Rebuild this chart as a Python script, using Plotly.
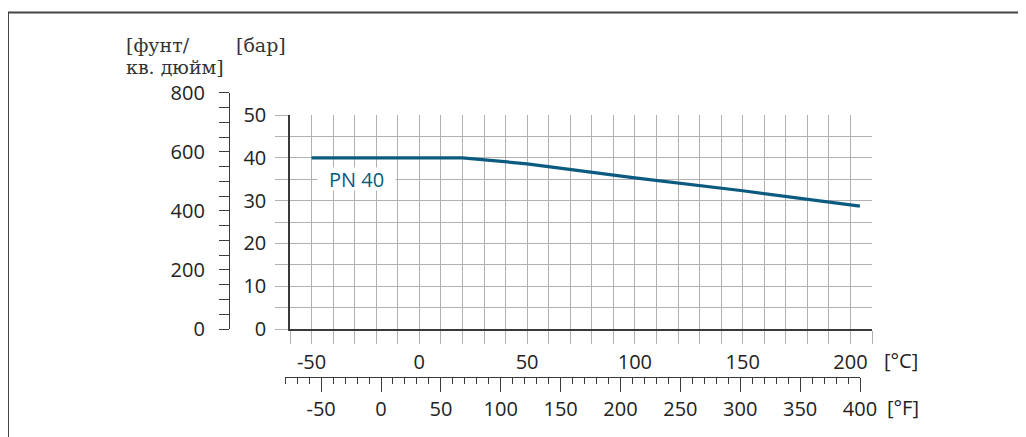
import plotly.graph_objects as go

# ---- data ----
temp_c = [-50, 20, 50, 100, 150, 200, 204.4]
pressure_bar = [40, 40, 38.6, 35.3, 32.3, 29.0, 28.7]
series_label = "PN 40"

c_range = [-60, 210]
c_ticks = list(range(-60, 211, 10))
c_labels = [str(v) if v % 50 == 0 else "" for v in c_ticks]

bar_range = [0, 50]
bar_ticks = list(range(0, 51, 5))
bar_labels = [str(v) if v % 10 == 0 else "" for v in bar_ticks]

f_range = [-80, 400]
f_major = list(range(-50, 401, 50))
f_minor = list(range(-80, 401, 10))

psi_range = [0, 800]
psi_major = list(range(0, 801, 200))
psi_minor = list(range(0, 801, 50))

# page body has an 8px margin: figure occupies window pixels 8..1026 x 8..437
OFF = 8
W, H = 1026 - OFF, 437 - OFF
def px(x):
    return (x - OFF) / W
def py(y):
    return 1 - (y - OFF) / H

LINE = "#0b5a80"
GRID = "#b0b0b0"
DARK = "#3a3a3a"
TXT = "#222222"
FONT = "Open Sans"
tick_font = dict(family=FONT, size=20, color=TXT)
serif_font = dict(family="DejaVu Serif", size=19, color="#333333")

fig = go.Figure()
fig.add_trace(go.Scatter(x=temp_c, y=pressure_bar, mode="lines",
                         line=dict(color=LINE, width=3.2), showlegend=False,
                         hoverinfo="skip"))
# helper traces that only bind the secondary axes to their own subplots
fig.add_trace(go.Scatter(x=f_range, y=[0, 0], xaxis="x2", yaxis="y3", mode="lines",
                         line=dict(width=0), opacity=0, showlegend=False, hoverinfo="skip"))
fig.add_trace(go.Scatter(x=[0, 0], y=psi_range, xaxis="x3", yaxis="y2", mode="lines",
                         line=dict(width=0), opacity=0, showlegend=False, hoverinfo="skip"))

fig.update_layout(
    width=W, height=H, autosize=False,
    margin=dict(l=0, r=0, t=0, b=0, pad=0, autoexpand=False),
    showlegend=False,
    paper_bgcolor="white", plot_bgcolor="rgba(0,0,0,0)",
    xaxis=dict(domain=[px(290), px(872)], range=c_range, tickmode="array",
               tickvals=c_ticks, ticktext=c_labels, ticks="outside", ticklen=13,
               tickcolor=GRID, tickwidth=1, showgrid=True, gridcolor=GRID, gridwidth=1,
               showline=True, linecolor=DARK, linewidth=1.5, zeroline=False,
               tickfont=tick_font, ticklabelstandoff=1, anchor="y", automargin=False),
    yaxis=dict(domain=[py(329), py(115)], range=bar_range, tickmode="array",
               tickvals=bar_ticks, ticktext=bar_labels, ticks="outside", ticklen=13,
               tickcolor=GRID, tickwidth=1, showgrid=True, gridcolor=GRID, gridwidth=1,
               showline=True, linecolor=DARK, linewidth=1.5, zeroline=False,
               tickfont=tick_font, ticklabelstandoff=5, anchor="x", automargin=False),
    xaxis2=dict(domain=[px(285.2), px(860.0)], range=f_range, tickmode="array",
                tickvals=f_major, ticktext=[str(v) for v in f_major],
                ticks="outside", ticklen=14, tickcolor=DARK, tickwidth=1,
                minor=dict(tickmode="array", tickvals=f_minor, ticks="outside",
                           ticklen=6, tickcolor=DARK, tickwidth=1),
                showgrid=False, showline=True, linecolor=DARK, linewidth=1.2,
                zeroline=False, tickfont=tick_font, anchor="free",
                position=py(376.5), side="bottom", ticklabelstandoff=0,
                automargin=False),
    yaxis3=dict(domain=[py(329), py(115)], range=[0, 1], visible=False,
                showgrid=False, anchor="x2", automargin=False),
    xaxis3=dict(domain=[0, 0.01], range=[0, 1], visible=False, showgrid=False,
                anchor="y2", automargin=False),
    yaxis2=dict(domain=[py(329), py(92.9)], range=psi_range, tickmode="array",
                tickvals=psi_major, ticktext=[str(v) for v in psi_major],
                ticks="outside", ticklen=10, tickcolor=DARK, tickwidth=1,
                minor=dict(tickmode="array", tickvals=psi_minor, ticks="outside",
                           ticklen=10, tickcolor=DARK, tickwidth=1),
                showgrid=False, showline=True, linecolor=DARK, linewidth=1.2,
                zeroline=False, tickfont=tick_font, anchor="free",
                position=px(229), side="left", ticklabelstandoff=10,
                automargin=False),
    shapes=[
        dict(type="line", xref="paper", yref="paper", x0=px(8), x1=px(8),
             y0=0, y1=py(12.5), line=dict(color="#444444", width=2)),
        dict(type="line", xref="paper", yref="paper", x0=px(7), x1=1,
             y0=py(12.5), y1=py(12.5), line=dict(color="#444444", width=2)),
    ],
    annotations=[
        dict(text=series_label, x=-29, y=35, xref="x", yref="y", showarrow=False,
             font=dict(family=FONT, size=20, color=LINE), bgcolor="white",
             width=77, height=22, borderpad=0),
        dict(text="[°C]", x=px(882), y=py(360), xref="paper", yref="paper",
             xanchor="left", yanchor="middle", showarrow=False, font=tick_font),
        dict(text="[°F]", x=px(885), y=py(407), xref="paper", yref="paper",
             xanchor="left", yanchor="middle", showarrow=False, font=tick_font),
        dict(text="[фунт/", x=px(124), y=py(45), xref="paper", yref="paper",
             xanchor="left", yanchor="middle", showarrow=False, font=serif_font),
        dict(text="кв. дюйм]", x=px(124), y=py(67), xref="paper", yref="paper",
             xanchor="left", yanchor="middle", showarrow=False, font=serif_font),
        dict(text="[бар]", x=px(234), y=py(45), xref="paper", yref="paper",
             xanchor="left", yanchor="middle", showarrow=False, font=serif_font),
    ],
)

fig.write_html("out.html")
